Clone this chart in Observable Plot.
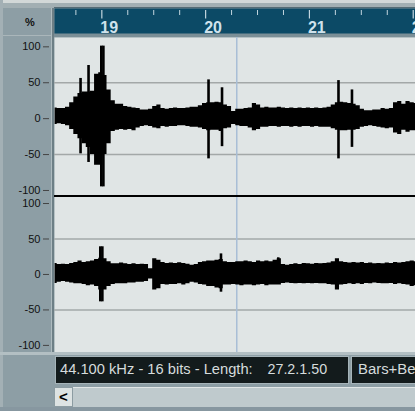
<!DOCTYPE html>
<html><head><meta charset="utf-8">
<script src="https://cdn.jsdelivr.net/npm/d3@7"></script>
<script src="https://cdn.jsdelivr.net/npm/@observablehq/plot@0.6"></script>
<style>
html,body{margin:0;padding:0;background:#8d9ea5;}
#app{position:relative;width:415px;height:411px;overflow:hidden;background:#8d9ea5;font-family:"Liberation Sans",Arial,sans-serif;}
.a{position:absolute;}
.a svg{display:block;}
</style></head><body><div id="app"></div>
<script>
// ---------- data ----------
const barNumbers = [19, 20, 21, 22];
const beatTicks = [18.75, 19.25, 19.5, 19.75, 20.25, 20.5, 20.75, 21.25, 21.5, 21.75];
const yTicks = [100, 50, 0, -50, -100];
const gridValues = [50, -50];
const cursorBar = [20.30];
const xDomain = [18.544, 22.022];
const frameStart = 18.55, frameStep = 0.04; // envelope column grid (bars)

const topHi = [15,14,14,16,22,30,35,37,37,38,62,64,60,40,25,20,20,17,16,15,14,12,12,13,17,19,14,13,14,15,14,14,15,16,16,18,21,22,22,23,22,19,17,10,13,13,14,15,21,19,15,16,15,15,16,15,14,15,14,15,14,15,14,15,14,15,16,19,22,23,22,21,20,18,13,11,11,12,12,14,13,14,22,24,20,24,22,21];
const topLo = [-8,-7,-8,-10,-15,-22,-28,-35,-40,-50,-65,-65,-50,-35,-18,-16,-15,-16,-15,-17,-13,-11,-10,-11,-13,-14,-11,-12,-11,-11,-10,-10,-11,-12,-12,-13,-15,-17,-16,-16,-18,-14,-13,-8,-10,-11,-11,-13,-17,-15,-12,-12,-11,-11,-12,-11,-11,-12,-11,-12,-11,-11,-12,-11,-12,-12,-12,-14,-16,-17,-17,-16,-16,-15,-12,-11,-10,-11,-12,-13,-14,-13,-20,-22,-16,-19,-17,-17];
const botHi = [15.5,14,14.5,14,15.5,17,19,17,18,19,21,23,22,18,15,15,16,15,14,15,14,14.5,14,8,22,20,17,15.5,16,15.5,16.5,15.5,14.5,13,14,17,18,19,19,20,21,18,17,17,18,18,19,18,17,19,18,19,18,20,22,14,13,14,15,14,15.5,15,14.5,15.5,15,15.5,16,18,22,18,17,16,17,16,17,15.5,16,15,15.5,15,16,15.5,17,16,17,18,19,18];
const botLo = [-12.6,-11,-10,-11,-12,-13,-13,-14,-16,-15,-17,-22,-22,-17,-14,-13,-13,-13,-12,-12,-11,-11,-10,-6.5,-22,-20,-14,-15,-14,-14,-13,-15,-13,-11,-12,-14,-15,-17,-17,-19,-20,-15,-15,-14,-15,-16,-15,-15,-16,-15,-14,-16,-15,-15,-15,-12.6,-12,-12.6,-13,-12.6,-13,-12.6,-13,-12.6,-13,-13,-14,-15,-22,-15,-14,-13,-14,-13,-14,-12.6,-13,-12,-12.6,-13,-13,-12.6,-14,-13,-14,-15,-17,-16];

const topSpikeT  = [18.795, 18.872, 18.995, 19.015, 20.028, 20.158, 21.28, 21.41];
const topSpikeHi = [56, 74, 101, 101, 54, 43, 53, 40];
const topSpikeLo = [-49, -61, -95, -95, -56, -39, -56, -40];
const botSpikeT  = [18.985, 19.005, 20.148, 20.70];
const botSpikeHi = [39, 39, 29, 23.5];
const botSpikeLo = [-38.6, -38.6, -25, -12];

const statusText = "44.100 kHz - 16 bits - Length:";
const lengthText = "27.2.1.50";
const formatText = "Bars+Beats";

// ---------- helpers ----------
const app = document.getElementById("app");
function box(x, y, w, h, css) {
  const d = document.createElement("div");
  d.className = "a";
  d.style.cssText = `left:${x}px;top:${y}px;width:${w}px;height:${h}px;` + (css || "");
  app.appendChild(d);
  return d;
}
const FONT = "Liberation Sans, Arial, sans-serif";

function channel(hi, lo, sT, sHi, sLo, yDomain, height, divider) {
  const env = hi.map((h, i) => ({t: frameStart + i * frameStep, hi: h, lo: lo[i]}));
  const spikes = sT.map((t, i) => ({t, hi: sHi[i], lo: sLo[i]}));
  const marks = [
    Plot.frame({fill: "#e0e5e5", stroke: null}),
    Plot.ruleY(gridValues, {stroke: "#a3a8a8", strokeWidth: 1.4}),
    Plot.ruleX(cursorBar, {stroke: "#a8bed6", strokeWidth: 1.5}),
    Plot.areaY(env, {x: "t", y1: "lo", y2: "hi", curve: "step", fill: "#000"}),
    Plot.ruleX(spikes, {x: "t", y1: "lo", y2: "hi", stroke: "#000", strokeWidth: 2.6}),
    Plot.axisY(yTicks, {anchor: "left", tickSize: 6, tickPadding: 3, dx: -5,
      tickFormat: d => String(d), fontSize: 11, fill: "#111", stroke: "#444", strokeWidth: 1})
  ];
  if (divider) marks.push(Plot.ruleY([yDomain[1]], {stroke: "#000", strokeWidth: 3}));
  return Plot.plot({
    width: 415, height, marginLeft: 54, marginRight: 0, marginTop: 0, marginBottom: 0,
    x: {domain: xDomain, axis: null},
    y: {domain: yDomain, axis: null},
    style: {background: "transparent", fontFamily: FONT, overflow: "hidden"},
    marks
  });
}

// ---------- chrome ----------
box(0, 0, 415, 3, "background:#d2d8d8;");
box(0, 3, 415, 5, "background:#a2afb3;");
box(0, 0, 3, 411, "background:#a3b0b5;");
box(3, 35, 49, 1, "background:#aab6ba;");
box(51, 8, 1, 344, "background:#aebbbf;");
box(52, 8, 2, 344, "background:#6d7f86;");
const pct = box(10, 14, 40, 16, "font:bold 11px " + FONT + ";color:#111;text-align:center;line-height:16px;");
pct.textContent = "%";

// ruler (teal band 8..33, grey border 33..37)
box(54, 7, 361, 1, "background:#556b75;");
const ruler = box(54, 8, 361, 29, "");
ruler.appendChild(Plot.plot({
  width: 361, height: 29, margin: 0, marginBottom: 4,
  x: {domain: xDomain, axis: null},
  style: {background: "#7b8f97", fontFamily: FONT, overflow: "hidden"},
  marks: [
    Plot.frame({fill: "#0c4a66", stroke: null}),
    Plot.ruleX(beatTicks, {stroke: "#c3d6df", strokeWidth: 1, insetTop: 2, insetBottom: 18}),
    Plot.ruleX(barNumbers, {stroke: "#c3d6df", strokeWidth: 1.2, insetTop: 2, insetBottom: 14.5}),
    Plot.text(barNumbers, {x: d => d, text: d => String(d), frameAnchor: "bottom", lineAnchor: "bottom",
      textAnchor: "start", dx: -1.5, dy: -0.5, fontSize: 16, fontWeight: "bold", fill: "#cfe2ec"})
  ]
}));

// channels
const topDiv = box(0, 37, 415, 158, "");
topDiv.appendChild(channel(topHi, topLo, topSpikeT, topSpikeHi, topSpikeLo, [-107, 113], 158, false));
const botDiv = box(0, 195, 415, 157, "");
botDiv.appendChild(channel(botHi, botLo, botSpikeT, botSpikeHi, botSpikeLo, [-110, 111.3], 157, true));

// status bar
box(0, 352, 415, 3, "background:#b3bfc3;");
box(55, 356, 294, 28, "box-sizing:border-box;background:#131b1c;border:1px solid #a6b4b9;");
box(351, 356, 70, 28, "box-sizing:border-box;background:#131b1c;border:1px solid #a6b4b9;");
const st1 = box(60, 362, 200, 15, "font:14.7px " + FONT + ";color:#d6dcdc;line-height:14.7px;white-space:pre;");
st1.textContent = statusText;
const st2 = box(267.5, 362, 80, 15, "font:14.3px " + FONT + ";color:#d6dcdc;line-height:14.3px;white-space:pre;");
st2.textContent = lengthText;
const st3 = box(358, 362, 80, 15, "font:14.9px " + FONT + ";color:#d6dcdc;line-height:14.9px;white-space:pre;");
st3.textContent = formatText;

// scrollbar
box(54, 387, 361, 20, "background:#bfcacd;border-top:1px solid #e2e7e7;box-sizing:border-box;");
const btn = box(54, 387, 19, 20, "box-sizing:border-box;background:#dde3e3;border:1px solid #8c9ca2;font:bold 15px " + FONT + ";color:#000;text-align:center;line-height:18px;");
btn.textContent = "<";
box(0, 407, 415, 4, "background:#8797a0;");
</script>
</body></html>
